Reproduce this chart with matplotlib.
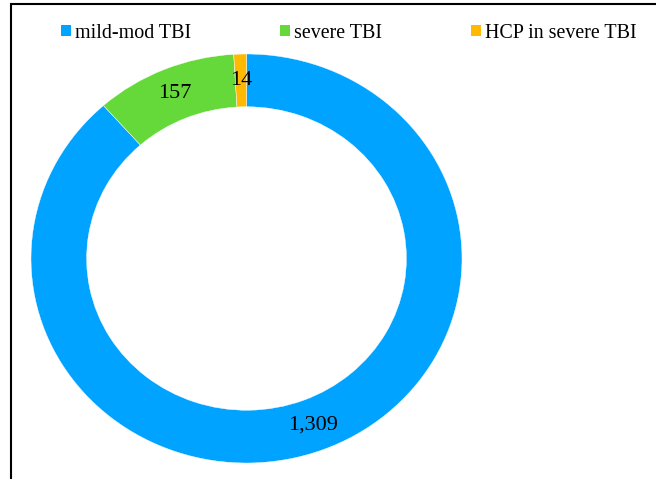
import matplotlib
matplotlib.use("Agg")
import matplotlib.pyplot as plt
from matplotlib.patches import Patch, Rectangle

plt.rcParams['font.family'] = ['Liberation Serif', 'DejaVu Serif']

# data
categories = ['mild-mod TBI', 'severe TBI', 'HCP in severe TBI']
counts = [1309, 157, 14]
colors = ['#00A3FF', '#66D93A', '#FFB900']

fig = plt.figure(figsize=(6.56, 4.79), dpi=100)

# ring sits in a slightly stretched box, as in the original
ax = fig.add_axes([31 / 656, 16 / 479, 431 / 656, 409 / 479])

ring = 0.258
wedges, texts, autotexts = ax.pie(
    counts, colors=colors, startangle=90, counterclock=False,
    wedgeprops=dict(width=ring, edgecolor='white', linewidth=0.3),
    autopct=lambda p: '{:,.0f}'.format(p * sum(counts) / 100),
    pctdistance=1 - ring / 2,
    textprops=dict(fontsize=16, color='black'))

ax.set_aspect('auto')
ax.set_xlim(-1, 1)
ax.set_ylim(-1, 1)
ax.axis('off')

handles = [Patch(facecolor=c, edgecolor='none') for c in colors]
fig.legend(handles, categories, loc='center', bbox_to_anchor=(0.532, 0.931),
           ncol=3, frameon=False, fontsize=14.4,
           handlelength=0.48, handleheight=0.48, handletextpad=0.22,
           columnspacing=4.45)

# chart border (only left and top edges visible in the crop)
fig.add_artist(Rectangle((10.5 / 656, -0.2), 2, 1.2 - 4.5 / 479,
                         transform=fig.transFigure, fill=False,
                         edgecolor='black', linewidth=1.5, clip_on=False))

fig.savefig('out.png', dpi=100)
